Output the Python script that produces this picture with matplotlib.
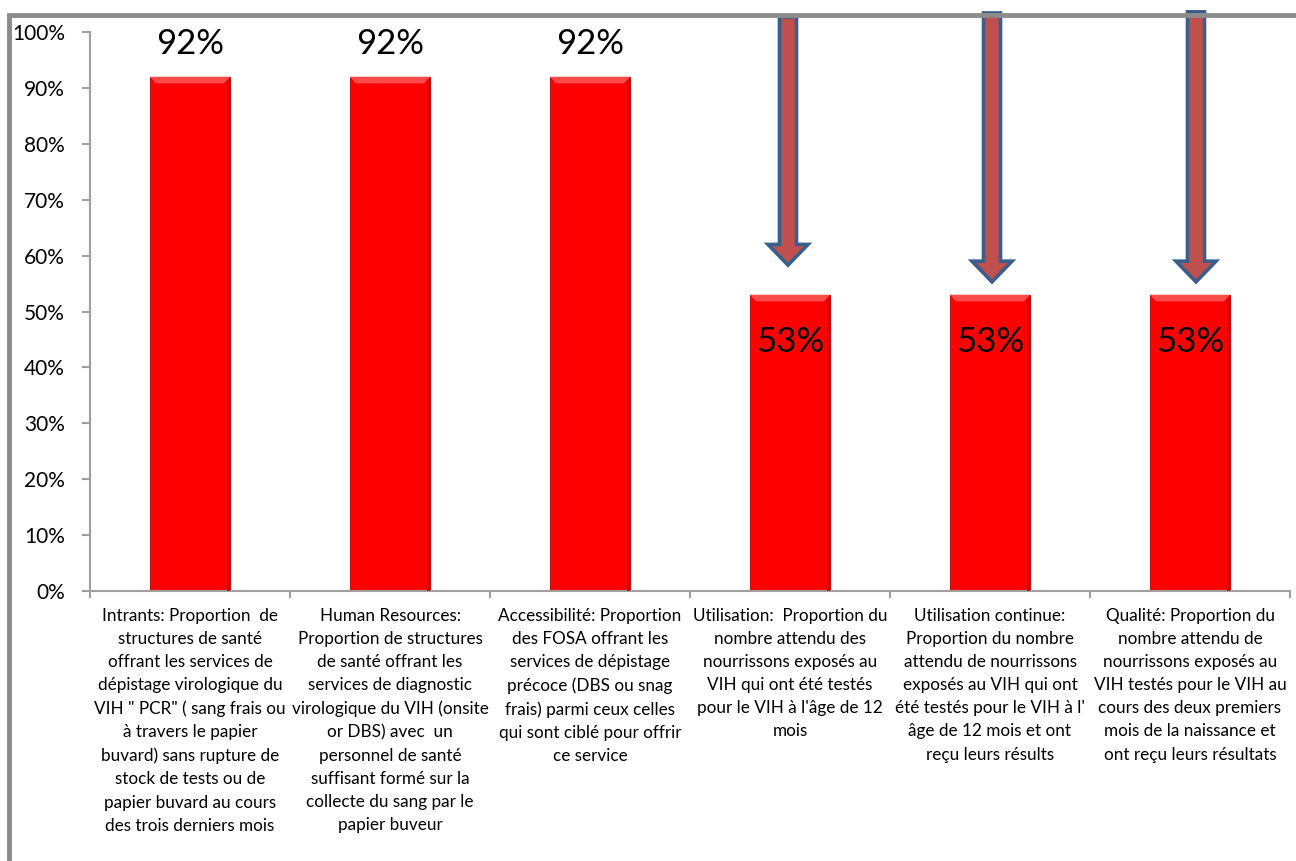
import numpy as np
import matplotlib.pyplot as plt
from matplotlib.patches import Rectangle, Polygon, FancyArrow

categories = [
    "Intrants: Proportion  de\nstructures de santé\noffrant les services de\ndépistage virologique du\n"
    "VIH \" PCR\" ( sang frais ou\nà travers le papier\nbuvard) sans rupture de\nstock de tests ou de\n"
    "papier buvard au cours\ndes trois derniers mois",
    "Human Resources:\nProportion de structures\nde santé offrant les\nservices de diagnostic\n"
    "virologique du VIH (onsite\nor DBS) avec  un\npersonnel de santé\nsuffisant formé sur la\n"
    "collecte du sang par le\npapier buveur",
    "Accessibilité: Proportion\ndes FOSA offrant les\nservices de dépistage\nprécoce (DBS ou snag\n"
    "frais) parmi ceux celles\nqui sont ciblé pour offrir\nce service",
    "Utilisation:  Proportion du\nnombre attendu des\nnourrissons exposés au\nVIH qui ont été testés\n"
    "pour le VIH à l'âge de 12\nmois",
    "Utilisation continue:\nProportion du nombre\nattendu de nourrissons\nexposés au VIH qui ont\n"
    "été testés pour le VIH à l'\nâge de 12 mois et ont\nreçu leurs résults",
    "Qualité: Proportion du\nnombre attendu de\nnourrissons exposés au\nVIH testés pour le VIH au\n"
    "cours des deux premiers\nmois de la naissance et\nont reçu leurs résultats",
]
values = [0.92, 0.92, 0.92, 0.53, 0.53, 0.53]
value_labels = ["92%", "92%", "92%", "53%", "53%", "53%"]
# arrows drawn over the last three bars: (x position, top, tip)
arrow_x = [2.99, 4.01, 5.03]
arrow_top = [1.027, 1.034, 1.036]
arrow_tip = [0.583, 0.553, 0.553]

plt.rcParams['font.family'] = ['Lato', 'DejaVu Sans']

fig = plt.figure(figsize=(12.96, 8.61), dpi=100)
ax = fig.add_axes([90 / 1296, 1 - 591 / 861, 1200 / 1296, 559 / 861])

# grey frame round the chart area
fig.patches.append(Rectangle((9 / 1296, -0.1), 1.2, 1.1 - 15 / 861, transform=fig.transFigure,
                             fill=False, edgecolor='#8c8c8c', linewidth=3.5, zorder=0))

x = np.arange(len(values))
w = 0.4
# soft shadow, then the bar, then a lighter bevel on top
ax.bar(x + 0.012, values, width=w, bottom=-0.004, color='#c8c8c8', alpha=0.6, zorder=1)
ax.bar(x, values, width=w, color='#ff0000', edgecolor='#b00000', linewidth=0.6, zorder=2)
bev = 0.012
for xi, v in zip(x, values):
    ax.add_patch(Polygon([(xi - w / 2, v), (xi + w / 2, v), (xi + w / 2 - 0.03, v - bev),
                          (xi - w / 2 + 0.03, v - bev)], closed=True,
                         facecolor='#ff4a4a', edgecolor='none', zorder=3))
    ax.add_patch(Polygon([(xi + w / 2, v), (xi + w / 2, 0), (xi + w / 2 - 0.015, 0),
                          (xi + w / 2 - 0.015, v - bev)], closed=True,
                         facecolor='#d80000', edgecolor='none', zorder=3))

for xi, v, lab in zip(x, values, value_labels):
    if v > 0.8:
        ax.text(xi, v + 0.058, lab, ha='center', va='center', fontsize=25, color='black', zorder=5)
    else:
        ax.text(xi, v - 0.085, lab, ha='center', va='center',
                fontsize=25, color='black', zorder=5)

for ax_, top, tip in zip(arrow_x, arrow_top, arrow_tip):
    ax.add_patch(FancyArrow(ax_, top, 0, tip - top, width=0.085, head_width=0.2,
                            head_length=0.037, length_includes_head=True,
                            facecolor='#c0504d', edgecolor='#3a5e8c', linewidth=2.6,
                            clip_on=False, zorder=6))

ax.set_xlim(-0.5, 5.5)
ax.set_ylim(0, 1)
ax.set_yticks(np.arange(0, 1.01, 0.1))
ax.set_yticklabels([f"{int(round(t * 100))}%" for t in np.arange(0, 1.01, 0.1)], fontsize=15)
ax.set_xticks(x)
ax.set_xticklabels(categories, fontsize=12.3, linespacing=1.55)
ax.set_xticks(np.arange(-0.5, 5.6, 1), minor=True)
ax.tick_params(axis='x', which='major', length=0, pad=12)
ax.tick_params(axis='x', which='minor', length=5, color='#a0a0a0', width=1.5)
ax.tick_params(axis='y', length=6, color='#a0a0a0', width=1.5, pad=12)

for s in ['top', 'right']:
    ax.spines[s].set_visible(False)
for s in ['left', 'bottom']:
    ax.spines[s].set_color('#a0a0a0')
    ax.spines[s].set_linewidth(1.5)

fig.savefig('out.png', dpi=100)
